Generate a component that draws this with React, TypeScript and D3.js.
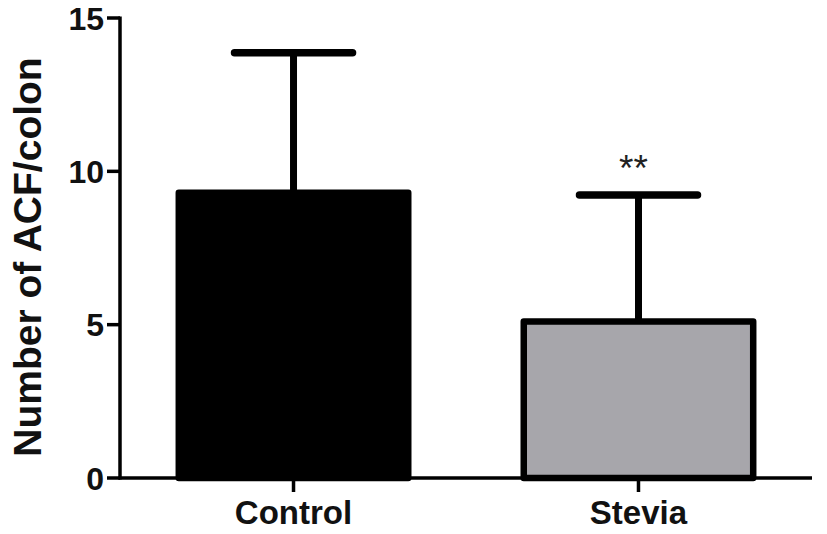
import React from "react";
import * as d3 from "d3";

const categories = ["Control", "Stevia"];
const means = [9.3, 5.1];
const errTops = [13.87, 9.23];
const barFills = ["#000000", "#a7a6ab"];
const significance = ["", "**"];
const yTicks = [0, 5, 10, 15];
const yLabel = "Number of ACF/colon";

const W = 827;
const H = 534;
const FONT = "'Liberation Sans', Arial, Helvetica, sans-serif";

export default function App() {
  const x = d3
    .scaleBand<string>()
    .domain(categories)
    .range([120, 812])
    .paddingInner(0.316)
    .paddingOuter(0.161);
  const y = d3.scaleLinear().domain([0, 15]).range([478, 18]);
  const sw = 6.5;

  return (
    <svg
      width={W}
      height={H}
      style={{ position: "absolute", left: 0, top: 0, background: "#fff" }}
      fontFamily={FONT}
    >
      {/* error bars */}
      {categories.map((c, i) => {
        const cx = (x(c) as number) + x.bandwidth() / 2;
        return (
          <g key={"e" + c}>
            <line
              x1={cx}
              x2={cx}
              y1={y(means[i])}
              y2={y(errTops[i])}
              stroke="#000"
              strokeWidth={7}
            />
            <line
              x1={cx - 59}
              x2={cx + 59}
              y1={y(errTops[i])}
              y2={y(errTops[i])}
              stroke="#000"
              strokeWidth={7.5}
              strokeLinecap="round"
            />
            {significance[i] && (
              <text
                x={cx - 5}
                y={y(errTops[i]) - 14}
                textAnchor="middle"
                fontSize={37}
                fill="#222"
              >
                {significance[i]}
              </text>
            )}
          </g>
        );
      })}
      {/* bars */}
      {categories.map((c, i) => (
        <rect
          key={"b" + c}
          x={(x(c) as number) + sw / 2}
          width={x.bandwidth() - sw}
          y={y(means[i])}
          height={y(0) - y(means[i])}
          fill={barFills[i]}
          stroke="#000"
          strokeWidth={sw}
          strokeLinejoin="round"
        />
      ))}
      {/* y axis */}
      <line x1={120} x2={120} y1={y(15) - 1.5} y2={y(0) + 1.5} stroke="#000" strokeWidth={3.5} />
      {yTicks.map((t) => (
        <g key={"yt" + t}>
          <line x1={107} x2={120} y1={y(t)} y2={y(t)} stroke="#000" strokeWidth={3.5} />
          <text
            x={104}
            y={y(t)}
            dy="0.36em"
            textAnchor="end"
            fontSize={32}
            fontWeight="bold"
            fill="#111"
          >
            {t}
          </text>
        </g>
      ))}
      {/* x axis */}
      <line x1={118.5} x2={812} y1={y(0)} y2={y(0)} stroke="#000" strokeWidth={3.5} />
      {categories.map((c) => {
        const cx = (x(c) as number) + x.bandwidth() / 2;
        return (
          <g key={"xt" + c}>
            <line x1={cx} x2={cx} y1={y(0)} y2={y(0) + 14} stroke="#000" strokeWidth={3.5} />
            <text
              x={cx}
              y={524}
              textAnchor="middle"
              fontSize={33}
              fontWeight="bold"
              fill="#111"
            >
              {c}
            </text>
          </g>
        );
      })}
      <text
        transform={`translate(41, 257) rotate(-90)`}
        textAnchor="middle"
        fontSize={39}
        fontWeight="bold"
        fill="#111"
      >
        {yLabel}
      </text>
    </svg>
  );
}
